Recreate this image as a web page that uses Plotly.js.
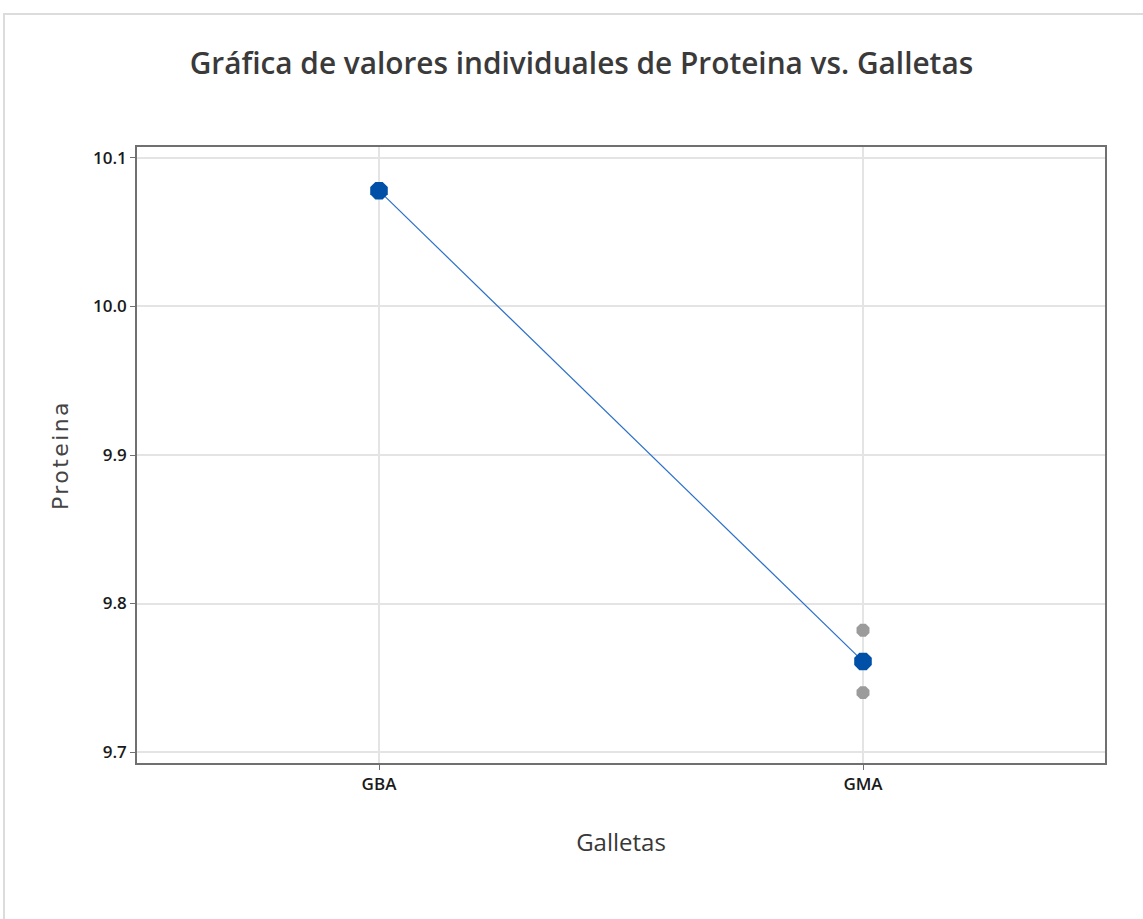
<!DOCTYPE html>
<html>
<head>
<meta charset="utf-8">
<script src="https://cdn.plot.ly/plotly-3.0.1.min.js"></script>
<style>
html,body{margin:0;padding:0;background:#fff;}
#wrap{position:relative;width:1143px;height:919px;}
#frame{position:absolute;left:3px;top:13px;width:1140px;height:906px;border-left:2px solid #dcdcdc;border-top:2px solid #dcdcdc;pointer-events:none;z-index:5;}
.ytitle{letter-spacing:2.4px;}
</style>
</head>
<body>
<div id="wrap"><div id="chart" style="width:1143px;height:919px;"></div><div id="frame"></div></div>
<script>
// Data
var categories = ["GBA", "GMA"];
var obsCategory = ["GBA", "GBA", "GMA", "GMA"];
var obsProteina = [10.078, 10.078, 9.782, 9.740];
var meanProteina = [10.078, 9.761];
var yTicks = [9.7, 9.8, 9.9, 10.0, 10.1];
var yTickText = ["9.7", "9.8", "9.9", "10.0", "10.1"];

var fontFam = '"Open Sans", "Noto Sans", sans-serif';

var traces = [
  {
    x: obsCategory, y: obsProteina, type: 'scatter', mode: 'markers',
    marker: {color: '#9b9b9b', size: 14, symbol: 'octagon', line: {width: 0}},
    hoverinfo: 'x+y', showlegend: false
  },
  {
    x: categories, y: meanProteina, type: 'scatter', mode: 'lines+markers',
    line: {color: '#2a6fc9', width: 1.2},
    marker: {color: '#0050a8', size: 19, symbol: 'octagon', line: {width: 0}},
    showlegend: false
  }
];

var layout = {
  width: 1143, height: 919,
  paper_bgcolor: '#ffffff', plot_bgcolor: '#ffffff',
  margin: {l: 137, r: 38, t: 147, b: 156},
  title: {
    text: 'Gráfica de valores individuales de Proteina vs. Galletas',
    font: {family: fontFam, size: 29.8, color: '#3a3a3a', weight: 600},
    x: 0.5087, xanchor: 'center', y: 0.931, yanchor: 'middle'
  },
  xaxis: {
    type: 'category', categoryorder: 'array', categoryarray: categories,
    range: [-0.5, 1.5],
    showgrid: true, gridcolor: '#e4e4e4', gridwidth: 1.5,
    showline: true, linecolor: '#707070', linewidth: 1.5, mirror: true,
    ticks: 'outside', ticklen: 5, tickcolor: '#707070',
    tickfont: {family: fontFam, size: 17, color: '#1a1a1a', weight: 600},
    zeroline: false,
    title: {text: 'Galletas', font: {family: fontFam, size: 24, color: '#383838'}, standoff: 40}
  },
  yaxis: {
    range: [9.6926, 10.1074],
    tickvals: yTicks, ticktext: yTickText,
    showgrid: true, gridcolor: '#e4e4e4', gridwidth: 1.5,
    showline: true, linecolor: '#707070', linewidth: 1.5, mirror: true,
    ticks: 'outside', ticklen: 5, tickcolor: '#707070',
    tickfont: {family: fontFam, size: 17, color: '#1a1a1a', weight: 600},
    zeroline: false,
    title: {text: 'Proteina', font: {family: '"DejaVu Sans", "Open Sans", sans-serif', size: 22, color: '#444444'}, standoff: 18}
  },
  font: {family: fontFam}
};

Plotly.newPlot('chart', traces, layout, {displayModeBar: false});
</script>
</body>
</html>
